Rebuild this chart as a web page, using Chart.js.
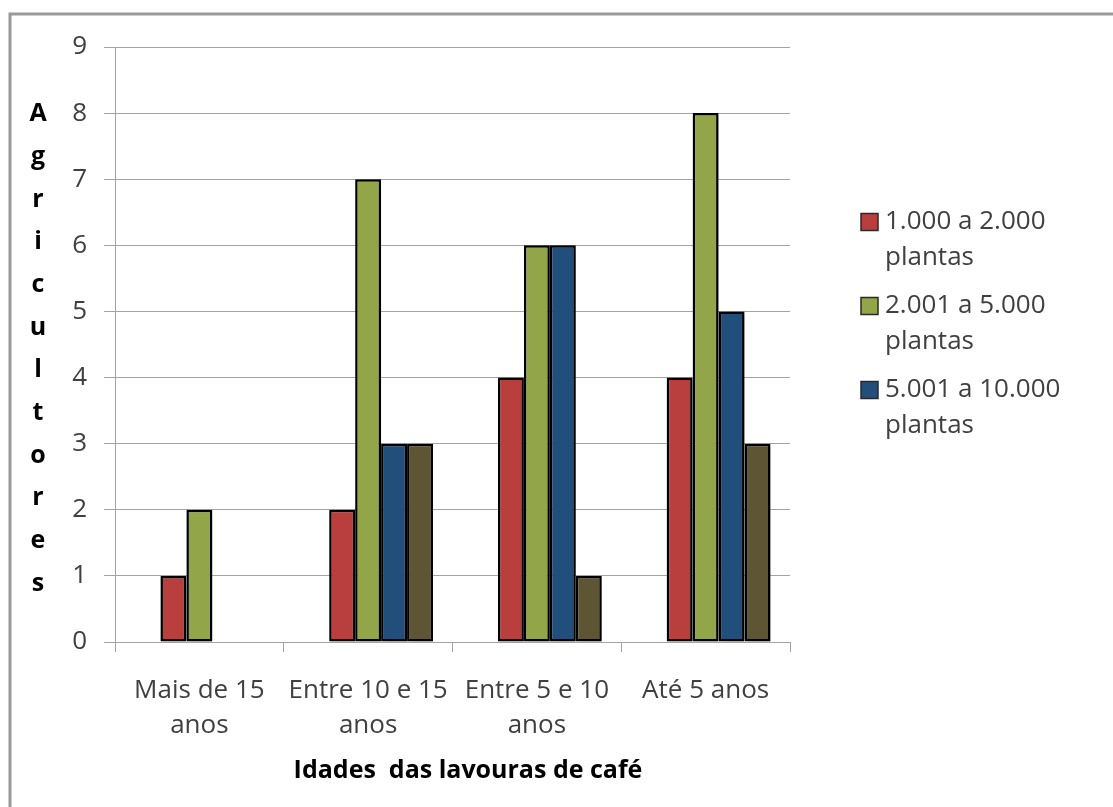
<!DOCTYPE html>
<html>
<head>
<meta charset="utf-8">
<script src="https://cdn.jsdelivr.net/npm/chart.js@4.4.1/dist/chart.umd.min.js"></script>
<style>
  html, body { margin: 0; padding: 0; background: #ffffff; }
  #chart { display: block; }
</style>
</head>
<body>
<canvas id="chart" width="1113" height="807"></canvas>
<script>
// Age groups of the coffee plantations (x axis)
const categories = [
  ['Mais de 15', 'anos'],
  ['Entre 10 e 15', 'anos'],
  ['Entre 5 e 10', 'anos'],
  ['Até 5 anos']
];

// Number of farmers per plantation size
const series1000a2000 = [1, 2, 4, 4];
const series2001a5000 = [2, 7, 6, 8];
const series5001a10000 = [0, 3, 6, 5];
const seriesFourth = [0, 3, 1, 3];
const seriesEmpty = [null, null, null, null];

// Legend text, one array of lines per entry
const legendLines = [
  ['1.000 a 2.000', 'plantas'],
  ['2.001 a 5.000', 'plantas'],
  ['5.001 a 10.000', 'plantas']
];

// Value axis
const yTicks = [0, 1, 2, 3, 4, 5, 6, 7, 8, 9];
const yTitle = 'Agricultores';
const xTitle = 'Idades  das lavouras de café';

const FONT = "'Open Sans', 'DejaVu Sans', sans-serif";
const GRID = '#a3a3a3';
const TEXT = '#404040';

// Grey frame around the chart
const framePlugin = {
  id: 'frame',
  beforeDraw(chart) {
    const ctx = chart.ctx;
    ctx.save();
    ctx.fillStyle = '#ffffff';
    ctx.fillRect(0, 0, chart.width, chart.height);
    ctx.strokeStyle = '#999999';
    ctx.lineWidth = 3;
    ctx.beginPath();
    ctx.moveTo(10, chart.height + 5);
    ctx.lineTo(10, 14);
    ctx.lineTo(chart.width + 5, 14);
    ctx.stroke();
    ctx.restore();
  }
};

// Soft drop shadow behind the columns
const shadowPlugin = {
  id: 'barShadow',
  beforeDatasetsDraw(chart) {
    const ctx = chart.ctx;
    ctx.save();
    ctx.shadowColor = 'rgba(0,0,0,0.25)';
    ctx.shadowBlur = 6;
    ctx.shadowOffsetX = 3;
    ctx.shadowOffsetY = 2;
  },
  afterDatasetsDraw(chart) {
    chart.ctx.restore();
  }
};

// Axis titles and the legend at the right
const textPlugin = {
  id: 'texts',
  afterDraw(chart) {
    const ctx = chart.ctx;
    ctx.save();
    ctx.fillStyle = '#000000';
    ctx.font = 'bold 25px ' + FONT;
    ctx.textAlign = 'center';
    ctx.textBaseline = 'middle';
    const letters = yTitle.split('');
    const top = 114, step = 42.7;
    letters.forEach((ch, i) => ctx.fillText(ch, 38, top + i * step));
    ctx.fillText(xTitle, 468, 771);

    // legend
    const shown = chart.data.datasets.filter(d => d.inLegend);
    ctx.textAlign = 'left';
    ctx.font = '26px ' + FONT;
    shown.forEach((ds, i) => {
      const y0 = 222 + i * 84;
      ctx.fillStyle = ds.backgroundColor;
      ctx.fillRect(861, y0 - 8.5, 17, 17);
      ctx.strokeStyle = '#2a2a2a';
      ctx.lineWidth = 1.5;
      ctx.strokeRect(861, y0 - 8.5, 17, 17);
      ctx.fillStyle = TEXT;
      legendLines[i].forEach((line, j) => ctx.fillText(line, 885, y0 + j * 36));
    });
    ctx.restore();
  }
};

const barStyle = { borderColor: '#000000', borderWidth: 2.5, borderSkipped: false };

new Chart(document.getElementById('chart'), {
  type: 'bar',
  data: {
    labels: categories,
    datasets: [
      { label: '', data: seriesEmpty, backgroundColor: 'rgba(0,0,0,0)', inLegend: false },
      { label: legendLines[0].join(' '), data: series1000a2000, backgroundColor: '#b83f3e', inLegend: true, ...barStyle },
      { label: legendLines[1].join(' '), data: series2001a5000, backgroundColor: '#93a549', inLegend: true, ...barStyle },
      { label: legendLines[2].join(' '), data: series5001a10000, backgroundColor: '#214e7a', inLegend: true, ...barStyle },
      { label: '', data: seriesFourth, backgroundColor: '#5e5535', inLegend: false, ...barStyle }
    ]
  },
  options: {
    responsive: false,
    devicePixelRatio: 1,
    animation: false,
    events: [],
    layout: { padding: { top: 47, right: 323, left: 0, bottom: 0 } },
    datasets: { bar: { categoryPercentage: 5 / 6.5, barPercentage: 1 } },
    plugins: { legend: { display: false }, tooltip: { enabled: false }, title: { display: false } },
    scales: {
      x: {
        offset: true,
        afterFit(scale) { scale.height = 165; },
        grid: { offset: true, drawOnChartArea: false, color: GRID, tickLength: 10, lineWidth: 1 },
        border: { display: true, color: GRID, width: 1 },
        ticks: {
          color: TEXT,
          font: { family: FONT, size: 26, lineHeight: 1.35 },
          padding: 21,
          maxRotation: 0,
          autoSkip: false
        }
      },
      y: {
        min: yTicks[0],
        max: yTicks[yTicks.length - 1],
        afterFit(scale) { scale.width = 115; },
        afterBuildTicks(scale) { scale.ticks = yTicks.map(v => ({ value: v })); },
        grid: { color: GRID, tickLength: 11, lineWidth: 1 },
        border: { display: true, color: GRID, width: 1 },
        ticks: {
          color: TEXT,
          font: { family: FONT, size: 26 },
          padding: 17,
          stepSize: 1
        }
      }
    }
  },
  plugins: [framePlugin, shadowPlugin, textPlugin]
});
</script>
</body>
</html>
